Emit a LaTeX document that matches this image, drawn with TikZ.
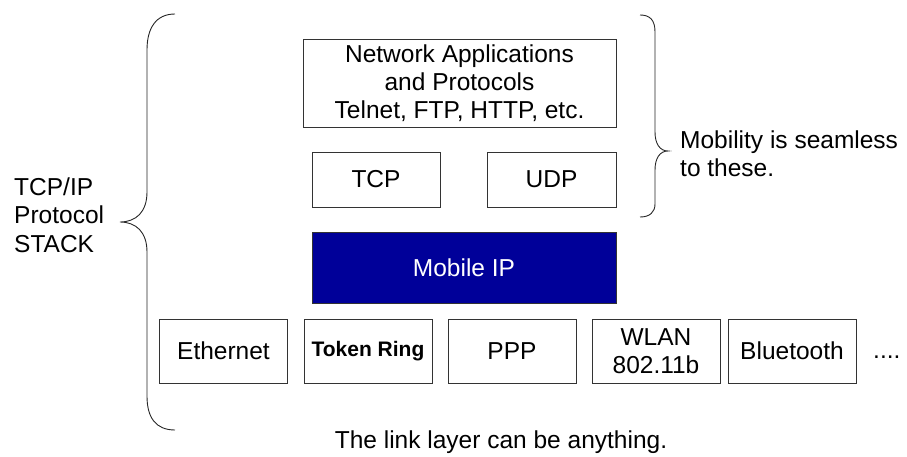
\documentclass[tikz,border=0pt]{standalone}
\usepackage{fontspec}
\setmainfont{Liberation Sans}
\definecolor{mipblue}{RGB}{0,0,153}
\begin{document}
\begin{tikzpicture}[x=1pt,y=-1pt,
  every node/.style={font=\fontsize{24.5}{28.3}\selectfont},
  layer/.style={draw=black!80,line width=0.9pt,rectangle,inner sep=0pt,align=center},
  link/.style={layer,minimum width=128pt,minimum height=64pt},
  brace/.style={draw=black!85,line width=0.9pt},
  lbl/.style={inner sep=0pt}]
\useasboundingbox (0,0) rectangle (907,457);
% upper layers
\node[layer,minimum width=313pt,minimum height=88pt] (app) at (459.5,83) {Network Applications\\and Protocols\\Telnet, FTP, HTTP, etc.};
\node[layer,minimum width=128pt,minimum height=55pt] (tcp) at (376,179.5) {TCP};
\node[layer,minimum width=129pt,minimum height=55pt] (udp) at (551.5,179.5) {UDP};
\node[layer,fill=mipblue,text=white,minimum width=304pt,minimum height=71pt] (mip) at (464,267.5) {Mobile IP};
% link layer
\node[link] (eth) at (223.5,351) {Ethernet};
\node[link,font=\fontsize{21}{24}\selectfont\bfseries] (tok) at (368,351) {Token Ring};
\node[link] (ppp) at (512,351) {PPP};
\node[link] (wlan) at (656,351) {WLAN\\802.11b};
\node[link] (bt) at (792,351) {Bluetooth};
\node[lbl,anchor=base west] (dots) at (873,358) {....};
% braces
\draw[brace] (175,14) .. controls (156,14) and (147,28) .. (147,50) -- (147,192)
  .. controls (147,212) and (136,222) .. (120,222)
  .. controls (136,222) and (147,232) .. (147,252) -- (147,396)
  .. controls (147,418) and (156,430) .. (175,430);
\draw[brace] (640,15) .. controls (650,15) and (655,20) .. (655,32) -- (655,132)
  .. controls (655,144) and (660,151) .. (668,151)
  .. controls (660,151) and (655,158) .. (655,170) -- (655,204)
  .. controls (655,212) and (650,217) .. (640,217);
% labels
\node[lbl,anchor=west,align=left] (stack) at (14,215) {TCP/IP\\Protocol\\STACK};
\node[lbl,anchor=west,align=left] (seam) at (680,154) {Mobility is seamless\\to these.};
\node[lbl] (anything) at (501,442) {The link layer can be anything.};
\end{tikzpicture}
\end{document}
